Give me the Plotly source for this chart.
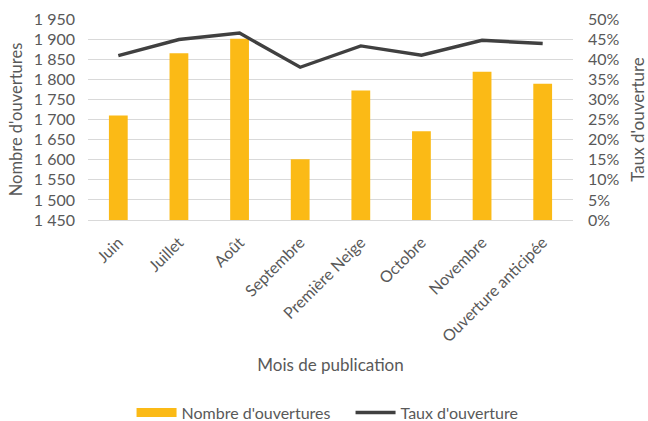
import plotly.graph_objects as go

categories = ["Juin", "Juillet", "Août", "Septembre", "Première Neige",
              "Octobre", "Novembre", "Ouverture anticipée"]
ouvertures = [1710, 1865, 1901, 1601, 1772, 1671, 1819, 1789]
taux = [0.409, 0.449, 0.465, 0.380, 0.433, 0.410, 0.447, 0.439]

left_ticks = [1450, 1500, 1550, 1600, 1650, 1700, 1750, 1800, 1850, 1900, 1950]
left_labels = ["1 450", "1 500", "1 550", "1 600", "1 650", "1 700", "1 750",
               "1 800", "1 850", "1 900", "1 950"]
right_ticks = [0, 0.05, 0.10, 0.15, 0.20, 0.25, 0.30, 0.35, 0.40, 0.45, 0.50]
right_labels = ["0%", "5%", "10%", "15%", "20%", "25%", "30%", "35%", "40%", "45%", "50%"]

FONT = "Lato"
GRAY = "#595959"
GOLD = "#FBBA16"
DARK = "#404040"

fig = go.Figure()
fig.add_trace(go.Bar(x=categories, y=ouvertures, name="Nombre d'ouvertures",
                     marker=dict(color=GOLD, line=dict(width=0)),
                     width=0.31, yaxis="y", showlegend=False,
                     legendgroup="bars"))
# legend entry for the bars, drawn as a wide swatch like the reference
fig.add_trace(go.Scatter(x=[None], y=[None], name="Nombre d'ouvertures",
                         mode="lines", line=dict(color=GOLD, width=9),
                         legendgroup="bars", showlegend=True, yaxis="y"))
fig.add_trace(go.Scatter(x=categories, y=taux, name="Taux d'ouverture",
                         mode="lines", line=dict(color=DARK, width=3.4),
                         yaxis="y2"))

fig.update_layout(
    width=648, height=421,
    margin=dict(l=88, r=75, t=19, b=201),
    paper_bgcolor="white", plot_bgcolor="white",
    font=dict(family=FONT, size=16, color=GRAY),
    showlegend=True,
    legend=dict(orientation="h", x=0.203, xanchor="left", xref="container",
                y=0.02, yanchor="middle", yref="container",
                font=dict(size=16, color=GRAY), itemwidth=40,
                entrywidth=164, traceorder="normal"),
    xaxis=dict(tickangle=-45, showgrid=False, showline=True,
               linecolor="#d9d9d9", linewidth=1, ticks="",
               tickfont=dict(size=16, color=GRAY), ticklabelstandoff=6,
               title=dict(text="Mois de publication", standoff=14,
                          font=dict(size=17, color=GRAY)),
               automargin=False),
    yaxis=dict(range=[1450, 1950], tickvals=left_ticks, ticktext=left_labels,
               showgrid=True, gridcolor="#d9d9d9", gridwidth=1,
               zeroline=False, ticks="", showline=False,
               tickfont=dict(size=16, color=GRAY), ticklabelstandoff=12,
               title=dict(text="Nombre d'ouvertures", standoff=7,
                          font=dict(size=16.5, color=GRAY)),
               automargin=False),
    yaxis2=dict(range=[0, 0.5], tickvals=right_ticks, ticktext=right_labels,
                overlaying="y", side="right", showgrid=False, zeroline=False,
                ticks="", showline=False,
                tickfont=dict(size=16, color=GRAY), ticklabelstandoff=14,
                title=dict(text="Taux d'ouverture", standoff=15,
                           font=dict(size=17, color=GRAY)),
                automargin=False),
)

fig.write_html("out.html", config={"displayModeBar": False},
               post_script="document.body.style.margin='0';document.body.style.overflow='hidden';")
